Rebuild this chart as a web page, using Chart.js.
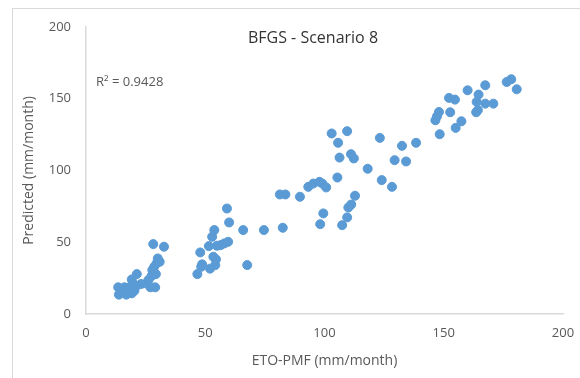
<!DOCTYPE html>
<html>
<head>
<meta charset="utf-8">
<script src="https://cdn.jsdelivr.net/npm/chart.js@4"></script>
<style>
  html, body { margin: 0; padding: 0; background: #fff; }
  #wrap { width: 580px; height: 378px; position: relative; }
</style>
</head>
<body>
<div id="wrap"><canvas id="chart" width="580" height="378"></canvas></div>
<script>
// observed ETo (x) and predicted (y), mm/month
const etoPmf = [
    13.5, 13.8, 16.1, 16.9, 17.7, 18.5, 19.2, 19.7, 19.2, 20.3, 21.3, 20.8, 23.1, 25.4, 26.2, 27.0, 27.5, 27.8, 28.6, 28.2, 29.0, 29.3, 29.6, 30.1, 30.9, 32.7,
    46.7, 47.9, 48.3, 48.7, 51.5, 52.0, 52.9, 53.4, 53.8, 54.2, 54.5, 54.9, 56.5, 58.0, 59.1, 59.6, 60.0, 65.9, 67.6, 74.6,
    81.3, 83.6, 82.5, 89.7, 93.2, 95.3, 97.9, 99.1, 100.7, 98.2, 99.5, 103.0, 105.4, 105.7, 106.3, 107.4, 109.5, 109.5, 110.0, 111.2, 111.1, 112.3, 112.8,
    118.1, 123.2, 124.0, 128.3, 129.4, 132.5, 134.2, 138.4,
    146.5, 147.2, 148.0, 148.3, 152.2, 152.7, 154.7, 155.0, 157.4, 160.0, 163.6, 164.3, 163.8, 164.6, 167.4, 167.4, 170.8, 176.4, 178.3, 180.6
];
const predicted = [
    18.6, 13.5, 18.6, 13.5, 16.7, 19.0, 14.4, 21.3, 24.1, 16.2, 27.8, 19.0, 20.9, 21.3, 23.7, 18.6, 26.5, 30.6, 32.9, 48.7, 18.6, 27.8, 35.3, 38.7, 36.4, 46.9,
    27.8, 42.9, 32.9, 34.6, 47.3, 31.6, 53.8, 39.9, 58.5, 34.1, 38.1, 47.6, 48.0, 49.2, 73.5, 50.3, 63.8, 58.5, 34.1, 58.5,
    83.3, 83.3, 60.1, 81.7, 88.6, 90.9, 92.1, 90.9, 88.2, 62.6, 70.1, 125.8, 95.1, 119.3, 109.0, 61.9, 127.4, 67.3, 74.2, 76.3, 111.4, 108.4, 82.4,
    101.2, 122.7, 93.3, 88.6, 107.2, 117.2, 106.3, 119.3,
    135.0, 137.8, 140.8, 125.3, 150.6, 140.6, 149.4, 129.7, 134.3, 155.9, 140.6, 142.0, 147.8, 152.9, 159.4, 146.6, 146.6, 161.7, 163.6, 156.6
];
const xTicks = [0, 50, 100, 150, 200];
const yTicks = [0, 50, 100, 150, 200];

const chartTitle = "BFGS - Scenario 8";
const rSquaredText = "R² = 0.9428";
const xTitle = "ETO-PMF (mm/month)";
const yTitle = "Predicted (mm/month)";

const points = etoPmf.map((x, i) => ({ x: x, y: predicted[i] }));

const FONT = "'Open Sans', Lato, sans-serif";
const GREY = "#595959";

// frame, chart title and R² label drawn on the canvas
const overlay = {
    id: "overlay",
    beforeDraw(chart) {
        const ctx = chart.ctx;
        ctx.save();
        ctx.fillStyle = "#fff";
        ctx.fillRect(0, 0, chart.width, chart.height);
        ctx.strokeStyle = "#d9d9d9";
        ctx.lineWidth = 1;
        ctx.strokeRect(12.5, 8.5, chart.width, chart.height);
        ctx.restore();
    },
    afterDraw(chart) {
        const ctx = chart.ctx;
        const area = chart.chartArea;
        ctx.save();
        ctx.textBaseline = "middle";
        ctx.fillStyle = "#333";
        ctx.font = "16px " + FONT;
        ctx.textAlign = "center";
        ctx.fillText(chartTitle, 313, 38);
        ctx.fillStyle = GREY;
        ctx.font = "13px " + FONT;
        ctx.textAlign = "left";
        ctx.fillText(rSquaredText, area.left + 10, 82);
        ctx.restore();
    }
};

new Chart(document.getElementById("chart"), {
    type: "scatter",
    data: {
        datasets: [{
            data: points,
            backgroundColor: "#5b9bd5",
            borderColor: "#5b9bd5",
            pointRadius: 4.5,
            pointHoverRadius: 4.5
        }]
    },
    options: {
        responsive: false,
        animation: false,
        layout: { padding: { left: 0, right: 17, top: 27, bottom: 0 } },
        plugins: {
            legend: { display: false },
            tooltip: { enabled: false }
        },
        scales: {
            x: {
                type: "linear",
                min: 0,
                max: 200,
                afterBuildTicks: s => { s.ticks = xTicks.map(v => ({ value: v })); },
                afterFit: s => { s.height = 64; },
                grid: { display: false, drawTicks: true, tickLength: 11 },
                border: { display: true, color: "#d9d9d9", width: 1.5 },
                ticks: { color: GREY, font: { family: FONT, size: 13 }, padding: 0, maxRotation: 0 },
                title: { display: true, text: xTitle, color: GREY, font: { family: FONT, size: 14 }, padding: { top: 9, bottom: 9 } }
            },
            y: {
                type: "linear",
                min: 0,
                max: 200,
                afterBuildTicks: s => { s.ticks = yTicks.map(v => ({ value: v })); },
                afterFit: s => { s.width = 86; },
                grid: { display: false, drawTicks: false },
                border: { display: true, color: "#d9d9d9", width: 1.5 },
                ticks: { color: GREY, font: { family: FONT, size: 13 }, padding: 15 },
                title: { display: true, text: yTitle, color: GREY, font: { family: FONT, size: 14 }, padding: { top: 21, bottom: 21 } }
            }
        }
    },
    plugins: [overlay]
});
</script>
</body>
</html>
